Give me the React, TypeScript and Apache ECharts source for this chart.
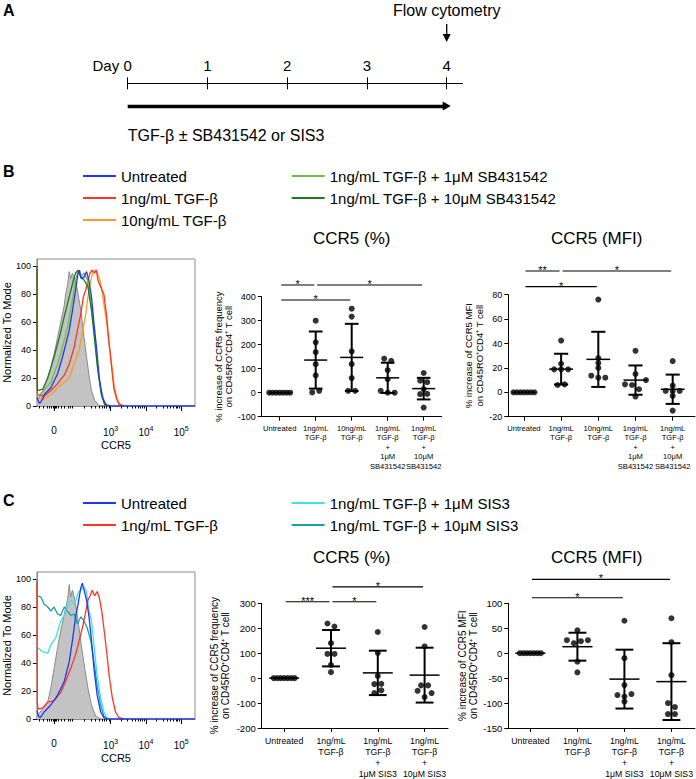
import React, { useEffect, useRef } from 'react';
import * as echarts from 'echarts';

const FONT = '"Liberation Sans", Arial, Helvetica, sans-serif';
type Pt = [number, number];

// ---------------- Panel A (timeline) ----------------
const timelineDays = [0, 1, 2, 3, 4];
const treatmentSpan = [0, 4];
const flowDay = 4;

// ---------------- Histogram axes (biexponential display units) ----------------
const histTickPos = [1.4, 3, 4, 5];
const histTickBase = ['0', '10', '10', '10'];
const histTickExp = ['', '3', '4', '5'];
const histMinorTicks = [0.98, 1.1, 1.2, 1.27, 1.33, 1.37, 1.43, 1.47, 1.53, 1.6, 1.7, 1.8, 1.86, 1.92, 2.25, 2.44, 2.57, 2.68, 2.76, 2.83, 2.89, 2.95, 3.3, 3.48, 3.6, 3.7, 3.78, 3.85, 3.9, 3.95, 4.3, 4.48, 4.6, 4.7, 4.78, 4.85, 4.9, 4.95];
const histYTicks = [0, 20, 40, 60, 80, 100];

// ---------------- Panel B histogram curves [CCR5 display value, % of mode] ----------------
const bHistIsotype: Pt[] = [[0.915, 4], [0.93, 4.8], [1.03, 8.4], [1.12, 13.2], [1.22, 20.4], [1.31, 27.6], [1.4, 37], [1.5, 49], [1.59, 60], [1.69, 72], [1.73, 80], [1.78, 86], [1.83, 96], [1.87, 91], [1.92, 95], [1.99, 90], [2.06, 83], [2.16, 68], [2.25, 49], [2.32, 35], [2.39, 22], [2.46, 11], [2.55, 4], [2.67, 0.5], [2.91, 0]];
const bHistUntreated: Pt[] = [[0.915, 6], [0.96, 3], [1.0, 2], [1.08, 5], [1.12, 8], [1.31, 13], [1.5, 23], [1.64, 35], [1.73, 44], [1.83, 54], [1.92, 68], [2.01, 83], [2.08, 95], [2.12, 97], [2.17, 91], [2.25, 92], [2.32, 96], [2.39, 89], [2.46, 78], [2.53, 59], [2.61, 40], [2.68, 20], [2.77, 6], [2.86, 1], [3.0, 0], [5.39, 0]];
const bHist1ng: Pt[] = [[0.915, 97], [0.925, 9], [0.95, 8], [1.12, 7], [1.31, 11], [1.5, 16], [1.69, 22], [1.83, 30], [1.97, 42], [2.06, 54], [2.16, 66], [2.23, 78], [2.3, 83], [2.36, 90], [2.42, 95], [2.48, 97], [2.55, 95], [2.6, 97], [2.64, 90], [2.72, 85], [2.81, 80], [2.89, 64], [2.95, 47], [3.02, 30], [3.09, 13], [3.17, 5], [3.24, 1], [3.38, 0]];
const bHist10ng: Pt[] = [[0.93, 6], [1.12, 5], [1.31, 8], [1.5, 13], [1.69, 17], [1.83, 20], [1.97, 30], [2.11, 40], [2.2, 52], [2.3, 66], [2.36, 78], [2.44, 90], [2.51, 96], [2.58, 97], [2.64, 94], [2.72, 88], [2.81, 73], [2.89, 59], [2.96, 44], [3.04, 28], [3.11, 13], [3.19, 5], [3.28, 1], [3.42, 0]];
const bHistSB1: Pt[] = [[0.915, 9], [0.93, 7], [1.12, 11], [1.31, 17], [1.5, 30], [1.64, 42], [1.78, 56], [1.92, 76], [2.01, 90], [2.08, 96], [2.16, 92], [2.25, 95], [2.34, 90], [2.44, 76], [2.53, 54], [2.62, 30], [2.72, 13], [2.81, 4], [2.91, 0]];
const bHistSB10: Pt[] = [[0.915, 100], [0.925, 13], [0.93, 11], [1.08, 12], [1.22, 20], [1.4, 35], [1.55, 49], [1.69, 64], [1.83, 78], [1.95, 90], [2.01, 95], [2.08, 97], [2.16, 92], [2.25, 90], [2.36, 85], [2.46, 68], [2.55, 47], [2.64, 25], [2.74, 8], [2.83, 1], [2.91, 0]];

// ---------------- Panel C histogram curves ----------------
const cHistIsotype: Pt[] = [[0.915, 2], [0.93, 2], [1.22, 12], [1.31, 22], [1.4, 36], [1.5, 51], [1.59, 63], [1.69, 75], [1.78, 85], [1.83, 96], [1.87, 87], [1.92, 92], [1.99, 85], [2.08, 70], [2.17, 53], [2.27, 36], [2.36, 22], [2.46, 10], [2.58, 2], [2.72, 0]];
const cHistUntreated: Pt[] = [[0.915, 6], [0.96, 2], [1.01, 1], [1.12, 5], [1.31, 10], [1.5, 17], [1.69, 27], [1.83, 41], [1.92, 56], [2.01, 73], [2.08, 82], [2.16, 94], [2.2, 97], [2.25, 92], [2.32, 85], [2.39, 73], [2.46, 56], [2.53, 36], [2.62, 17], [2.72, 5], [2.81, 1], [2.91, 0], [5.39, 0]];
const cHist1ng: Pt[] = [[0.915, 98], [0.925, 12], [0.95, 7], [1.08, 8], [1.22, 12], [1.4, 13], [1.59, 19], [1.73, 27], [1.87, 36], [2.01, 46], [2.11, 56], [2.2, 65], [2.3, 77], [2.36, 85], [2.42, 88], [2.48, 92], [2.55, 88], [2.62, 91], [2.68, 87], [2.75, 77], [2.81, 65], [2.89, 48], [2.96, 31], [3.05, 15], [3.14, 5], [3.24, 1], [3.38, 0]];
const cHistSIS1: Pt[] = [[0.915, 55], [0.93, 51], [1.08, 48], [1.22, 47], [1.31, 53], [1.45, 58], [1.59, 70], [1.73, 76], [1.87, 85], [1.99, 82], [2.08, 90], [2.17, 93], [2.25, 94], [2.32, 91], [2.39, 77], [2.46, 70], [2.53, 53], [2.62, 31], [2.72, 15], [2.81, 5], [2.91, 0.5], [3.05, 0]];
const cHistSIS10: Pt[] = [[0.915, 100], [0.93, 88], [1.03, 87], [1.12, 82], [1.22, 80], [1.31, 77], [1.4, 80], [1.5, 75], [1.59, 74], [1.69, 80], [1.78, 77], [1.87, 74], [1.97, 75], [2.06, 68], [2.16, 73], [2.25, 70], [2.34, 65], [2.44, 56], [2.53, 41], [2.62, 24], [2.72, 10], [2.81, 2], [2.95, 0]];

// ---------------- Legends ----------------
const bLegendLeft = ['Untreated', '1ng/mL TGF-β', '10ng/mL TGF-β'];
const bLegendRight = ['1ng/mL TGF-β + 1μM SB431542', '1ng/mL TGF-β + 10μM SB431542'];
const cLegendLeft = ['Untreated', '1ng/mL TGF-β'];
const cLegendRight = ['1ng/mL TGF-β + 1μM SIS3', '1ng/mL TGF-β + 10μM SIS3'];

// ---------------- Panel B dot plots ----------------
const bGroups = ['Untreated', '1ng/mL\nTGF-β', '10ng/mL\nTGF-β', '1ng/mL\nTGF-β\n+\n1μM\nSB431542', '1ng/mL\nTGF-β\n+\n10μM\nSB431542'];
const b1Values = [
  [0, 0, 0, 0, 0, 0, 0],
  [300, 210, 169, 119, 72, 1, 8],
  [350, 317, 172, 119, 61, 8, 8],
  [142, 133, 94, 56, 8, 0, 0],
  [82, 50, 44, 15, -6, -5, -62],
];
const b1Mean = [0, 136, 147, 62, 17];
const b1SD = [0, 119, 140, 63, 45];
const b1SigFrom = [0, 1, 0];
const b1SigTo = [1, 4, 2];
const b1SigLevel = [449, 449, 386];
const b1SigLabel = ['*', '*', '*'];

const b2Values = [
  [0, 0, 0, 0, 0, 0, 0],
  [42.4, 23.4, 18.8, 18.8, 18.8, 6, 6.5],
  [76, 28, 24, 20, 13.6, 12, 12],
  [34, 15, 6.5, 6, 2.5, 10, -3.5],
  [25.6, 5.4, 1.1, 1.0, 1.1, -3, -15],
];
const b2Mean = [0, 19, 27, 10, 2.5];
const b2SD = [0, 12.6, 22.6, 12, 12];
const b2SigFrom = [0, 1, 0];
const b2SigTo = [1, 4, 2];
const b2SigLevel = [99.4, 99.4, 86.6];
const b2SigLabel = ['**', '*', '*'];

// ---------------- Panel C dot plots ----------------
const cGroups = ['Untreated', '1ng/mL\nTGF-β', '1ng/mL\nTGF-β\n+\n1μM SIS3', '1ng/mL\nTGF-β\n+\n10μM SIS3'];
const c1Values = [
  [0, 0, 0, 0, 0, 0, 0],
  [219, 207, 140, 97, 97, 53, 24],
  [185, 101, 9, -24, -23, -60, -49],
  [205, 127, -29, -29, -51, -76, -60],
];
const c1Mean = [0, 120, 21, 12];
const c1SD = [0, 73, 89, 110];
const c1SigFrom = [0, 1, 1];
const c1SigTo = [1, 2, 3];
const c1SigLevel = [306, 306, 366];
const c1SigLabel = ['***', '*', '*'];

const c2Values = [
  [0, 0, 0, 0, 0, 0, 0],
  [46, 26, 20, 24, 26, -17, -38.5],
  [65, -10, -64, -84, -87, -82, -97],
  [70, 22, -44, -100, -108, -122, -122],
];
const c2Mean = [0, 13, -52, -57];
const c2SD = [0, 28, 59, 77];
const c2SigFrom = [0, 0];
const c2SigTo = [3, 2];
const c2SigLevel = [148, 111];
const c2SigLabel = ['*', '*'];

// ---------------- colours ----------------
const COLORS: Record<string, string> = {
  'Untreated': '#2138f2',
  '1ng/mL TGF-β': '#ff3526',
  '10ng/mL TGF-β': '#ff9a2a',
  '1ng/mL TGF-β + 1μM SB431542': '#6fc23b',
  '1ng/mL TGF-β + 10μM SB431542': '#1d7a1f',
  '1ng/mL TGF-β + 1μM SIS3': '#3fe2ea',
  '1ng/mL TGF-β + 10μM SIS3': '#17a3a3',
};

function nearestIdx(arr: number[], v: number) {
  let best = 0;
  arr.forEach((a, i) => { if (Math.abs(a - v) < Math.abs(arr[best] - v)) best = i; });
  return best;
}

// spread overlapping dots horizontally (GraphPad-like column scatter)
function swarmOffsets(values: number[], pxPerY: number, pxPerCat: number): number[] {
  const order = values.map((_, i) => i).sort((a, b) => values[b] - values[a] || a - b);
  const clusters: number[][] = [];
  let cur: number[] = [];
  order.forEach((i) => {
    if (cur.length && Math.abs(values[cur[cur.length - 1]] - values[i]) * pxPerY > 4.5) {
      clusters.push(cur);
      cur = [];
    }
    cur.push(i);
  });
  if (cur.length) clusters.push(cur);
  const off = values.map(() => 0);
  clusters.forEach((c) => {
    const k = c.length;
    if (k < 2) return;
    const sp = Math.min(7, 21 / (k - 1));
    c.slice().sort((a, b) => a - b).forEach((i, j) => { off[i] = ((j - (k - 1) / 2) * sp) / pxPerCat; });
  });
  return off;
}

function buildOption() {
  const grid: any[] = [];
  const xAxis: any[] = [];
  const yAxis: any[] = [];
  const series: any[] = [];
  const txt = { color: '#000', fontFamily: FONT };

  // ---- timeline ----
  const tlLeft = 127.7, tlDay = 79.75, tlTop = 83.3;
  grid.push({ left: tlLeft, top: tlTop, width: 4.2 * tlDay, height: 22.7 });
  xAxis.push({
    gridIndex: 0, type: 'value', min: 0, max: 4.2, position: 'top',
    axisLine: { show: true, onZero: false, lineStyle: { color: '#000', width: 1 } },
    axisTick: { show: true, length: 6, customValues: timelineDays, lineStyle: { color: '#000' } },
    axisLabel: { show: true, customValues: timelineDays, margin: 10, fontSize: 15, ...txt },
    splitLine: { show: false },
  });
  xAxis.push({
    gridIndex: 0, type: 'value', min: 0, max: 4.2, position: 'top',
    axisLine: { show: false, onZero: false },
    axisTick: { show: true, inside: true, length: 6, customValues: timelineDays, lineStyle: { color: '#000' } },
    axisLabel: { show: false }, splitLine: { show: false },
  });
  yAxis.push({ gridIndex: 0, type: 'value', min: 0, max: 1, show: false });
  series.push({
    type: 'line', xAxisIndex: 0, yAxisIndex: 0, data: [[0, 0]], symbol: 'none', silent: true,
    color: '#000', lineStyle: { width: 0 },
    markLine: {
      silent: true, symbol: ['none', 'triangle'], symbolSize: [9, 8], label: { show: false },
      itemStyle: { color: '#000' },
      lineStyle: { color: '#000', width: 3.3, type: 'solid' },
      data: [[{ coord: [treatmentSpan[0], 0] }, { coord: [treatmentSpan[1], 0] }]],
    },
  });

  // ---- histograms ----
  const histPanel = (top: number, curves: { name?: string; data: Pt[] }[]) => {
    const gi = grid.length;
    grid.push({ left: 36, top, width: 159, height: 147, show: true, borderColor: '#8c8c8c', borderWidth: 1, backgroundColor: 'transparent' });
    const xi = xAxis.length;
    xAxis.push({
      gridIndex: gi, type: 'value', min: 0.915, max: 5.39, position: 'bottom',
      axisLine: { show: true, onZero: false, lineStyle: { color: '#8c8c8c' } },
      axisTick: { show: true, length: 5, customValues: histTickPos, lineStyle: { color: '#000' } },
      axisLabel: {
        customValues: histTickPos, showMinLabel: true, showMaxLabel: true,
        formatter: (v: number) => {
          const i = nearestIdx(histTickPos, v);
          return histTickExp[i] ? `{b|${histTickBase[i]}}{s|${histTickExp[i]}}` : `{b|${histTickBase[i]}}`;
        },
        margin: 19, ...txt,
        rich: {
          b: { fontSize: 10, ...txt },
          s: { fontSize: 7, padding: [0, 0, 7, 0], ...txt },
        },
      },
      splitLine: { show: false },
      name: 'CCR5', nameLocation: 'middle', nameGap: 33, nameTextStyle: { fontSize: 11, ...txt },
    });
    xAxis.push({
      gridIndex: gi, type: 'value', min: 0.915, max: 5.39, position: 'bottom',
      axisLine: { show: false, onZero: false },
      axisTick: { show: true, length: 2.5, customValues: histMinorTicks, lineStyle: { color: '#000' } },
      axisLabel: { show: false }, splitLine: { show: false },
    });
    const yi = yAxis.length;
    yAxis.push({
      gridIndex: gi, type: 'value', min: 0, max: 105,
      axisLine: { show: true, onZero: false, lineStyle: { color: '#8c8c8c' } },
      axisTick: { show: true, length: 4, customValues: histYTicks, lineStyle: { color: '#000' } },
      axisLabel: { customValues: histYTicks, fontSize: 9, margin: 6, ...txt },
      splitLine: { show: false },
      name: 'Normalized To Mode', nameLocation: 'middle', nameRotate: 90, nameGap: 20,
      nameTextStyle: { fontSize: 11, ...txt },
    });
    curves.forEach((c) => {
      if (!c.name) {
        series.push({
          type: 'line', xAxisIndex: xi, yAxisIndex: yi, data: c.data, symbol: 'none', silent: true,
          color: '#8a8a8a', lineStyle: { color: '#8a8a8a', width: 1 }, areaStyle: { color: '#c3c3c3', opacity: 1 },
        });
      } else {
        const col = COLORS[c.name];
        series.push({
          type: 'line', name: c.name, xAxisIndex: xi, yAxisIndex: yi, data: c.data, symbol: 'none', silent: true,
          color: col, itemStyle: { color: col }, lineStyle: { color: col, width: 1.3 },
        });
      }
    });
  };

  histPanel(259, [
    { data: bHistIsotype },
    { name: '10ng/mL TGF-β', data: bHist10ng },
    { name: '1ng/mL TGF-β', data: bHist1ng },
    { name: '1ng/mL TGF-β + 1μM SB431542', data: bHistSB1 },
    { name: '1ng/mL TGF-β + 10μM SB431542', data: bHistSB10 },
    { name: 'Untreated', data: bHistUntreated },
  ]);

  // ---- dot plots ----
  const dotPanel = (p: any) => {
    const gi = grid.length;
    grid.push({ left: p.left, top: p.top, width: p.width, height: p.height });
    const xi = xAxis.length;
    const idx = p.groups.map((_: string, i: number) => i);
    xAxis.push({
      gridIndex: gi, type: 'value', min: p.xMin, max: p.xMax, position: 'bottom',
      axisLine: { show: true, onZero: false, lineStyle: { color: '#000', width: 1 } },
      axisTick: { show: true, length: 4, customValues: idx, lineStyle: { color: '#000' } },
      axisLabel: {
        customValues: idx, showMinLabel: true, showMaxLabel: true, hideOverlap: false,
        formatter: (v: number) => p.groups[Math.round(v)], fontSize: p.catSize, lineHeight: p.catLH, margin: 7, ...txt,
      },
      splitLine: { show: false },
    });
    const yi = yAxis.length;
    yAxis.push({
      gridIndex: gi, type: 'value', min: p.yMin, max: p.yMax, interval: p.yStep,
      axisLine: { show: true, onZero: false, lineStyle: { color: '#000', width: 1 } },
      axisTick: { show: true, length: 4, lineStyle: { color: '#000' } },
      axisLabel: { fontSize: p.tickSize, margin: 6, showMinLabel: true, showMaxLabel: true, ...txt },
      splitLine: { show: false },
      name: p.yName, nameLocation: 'middle', nameRotate: 90, nameGap: p.nameGap,
      nameTextStyle: { fontSize: p.nameSize, lineHeight: p.nameLH, ...txt },
    });
    const pxPerY = p.height / (p.yMax - p.yMin);
    const pxPerCat = p.width / (p.xMax - p.xMin);
    const pts: number[][] = [];
    p.values.forEach((vals: number[], g: number) => {
      const off = swarmOffsets(vals, pxPerY, pxPerCat);
      vals.forEach((v, k) => pts.push([g + off[k], v]));
    });
    series.push({
      type: 'custom', xAxisIndex: xi, yAxisIndex: yi, silent: true, color: '#000',
      data: p.mean.map((m: number, g: number) => [g, m, p.sd[g]]),
      renderItem: (_params: any, api: any) => {
        const x = api.value(0), m = api.value(1), s = api.value(2);
        const c = api.coord([x, m]);
        const w = api.size([1, 0])[0];
        const children: any[] = [
          { type: 'line', shape: { x1: c[0] - 0.32 * w, y1: c[1], x2: c[0] + 0.32 * w, y2: c[1] }, style: { stroke: '#000', lineWidth: 1.5 } },
        ];
        if (s > 0) {
          const t = api.coord([x, m + s]);
          const b = api.coord([x, m - s]);
          const ch = 0.19 * w;
          children.push({ type: 'line', shape: { x1: t[0], y1: t[1], x2: b[0], y2: b[1] }, style: { stroke: '#000', lineWidth: 2 } });
          children.push({ type: 'line', shape: { x1: t[0] - ch, y1: t[1], x2: t[0] + ch, y2: t[1] }, style: { stroke: '#000', lineWidth: 2 } });
          children.push({ type: 'line', shape: { x1: b[0] - ch, y1: b[1], x2: b[0] + ch, y2: b[1] }, style: { stroke: '#000', lineWidth: 2 } });
        }
        return { type: 'group', children };
      },
    });
    series.push({
      type: 'scatter', xAxisIndex: xi, yAxisIndex: yi, data: pts, symbol: 'circle', symbolSize: 6,
      color: '#000', itemStyle: { color: '#000' }, silent: true,
    });
    series.push({
      type: 'custom', xAxisIndex: xi, yAxisIndex: yi, silent: true, clip: false, color: '#000',
      data: p.sigFrom.map((f: number, i: number) => [f, p.sigTo[i], p.sigLevel[i]]),
      renderItem: (params: any, api: any) => {
        const a = api.coord([api.value(0), api.value(2)]);
        const b = api.coord([api.value(1), api.value(2)]);
        return {
          type: 'group',
          children: [
            { type: 'line', shape: { x1: a[0] + 1.5, y1: a[1], x2: b[0] - 1.5, y2: b[1] }, style: { stroke: '#000', lineWidth: 1.1 } },
            { type: 'text', x: (a[0] + b[0]) / 2, y: a[1] - 1, style: { text: p.sigLabel[params.dataIndex], fill: '#000', fontSize: 11, fontFamily: FONT, align: 'center', verticalAlign: 'middle' } },
          ],
        };
      },
    });
  };

  dotPanel({
    left: 261.7, top: 296.7, width: 180, height: 120, xMin: -0.5, xMax: 4.5, yMin: -100, yMax: 400, yStep: 100,
    groups: bGroups, values: b1Values, mean: b1Mean, sd: b1SD,
    sigFrom: b1SigFrom, sigTo: b1SigTo, sigLevel: b1SigLevel, sigLabel: b1SigLabel,
    yName: '% increase of CCR5 frequency\non CD45RO⁺CD4⁺ T cell', nameGap: 14, nameSize: 9.5, nameLH: 10.5,
    catSize: 7.6, catLH: 9.5, tickSize: 9,
  });
  dotPanel({
    left: 508.3, top: 294.7, width: 186.7, height: 122, xMin: -0.42, xMax: 4.6, yMin: -20, yMax: 80, yStep: 20,
    groups: bGroups, values: b2Values, mean: b2Mean, sd: b2SD,
    sigFrom: b2SigFrom, sigTo: b2SigTo, sigLevel: b2SigLevel, sigLabel: b2SigLabel,
    yName: '% increase of CCR5 MFI\non CD45RO⁺CD4⁺ T cell', nameGap: 24, nameSize: 9.5, nameLH: 10.5,
    catSize: 7.6, catLH: 9.5, tickSize: 9,
  });

  histPanel(572, [
    { data: cHistIsotype },
    { name: '1ng/mL TGF-β + 10μM SIS3', data: cHistSIS10 },
    { name: '1ng/mL TGF-β + 1μM SIS3', data: cHistSIS1 },
    { name: '1ng/mL TGF-β', data: cHist1ng },
    { name: 'Untreated', data: cHistUntreated },
  ]);

  dotPanel({
    left: 261.7, top: 603.3, width: 186.3, height: 125, xMin: -0.48, xMax: 3.5, yMin: -200, yMax: 300, yStep: 100,
    groups: cGroups, values: c1Values, mean: c1Mean, sd: c1SD,
    sigFrom: c1SigFrom, sigTo: c1SigTo, sigLevel: c1SigLevel, sigLabel: c1SigLabel,
    yName: '% increase of CCR5 frequency\non CD45RO⁺CD4⁺ T cell', nameGap: 30, nameSize: 10, nameLH: 11.5,
    catSize: 8.7, catLH: 11, tickSize: 9.5,
  });
  dotPanel({
    left: 508.3, top: 603.3, width: 186.7, height: 125, xMin: -0.47, xMax: 3.5, yMin: -150, yMax: 100, yStep: 50,
    groups: cGroups, values: c2Values, mean: c2Mean, sd: c2SD,
    sigFrom: c2SigFrom, sigTo: c2SigTo, sigLevel: c2SigLevel, sigLabel: c2SigLabel,
    yName: '% increase of CCR5 MFI\non CD45RO⁺CD4⁺ T cell', nameGap: 28, nameSize: 10, nameLH: 11.5,
    catSize: 8.7, catLH: 11, tickSize: 9.5,
  });

  // ---- legends ----
  const legend: any[] = [];
  const legendItem = (name: string, left: number, y: number) => ({
    show: true, left, top: y - 8.5, padding: 0, orient: 'horizontal', icon: 'rect',
    itemWidth: 33, itemHeight: 2, itemGap: 0, selectedMode: false, data: [name],
    textStyle: { fontSize: 15, lineHeight: 17, color: '#000', fontFamily: FONT },
  });
  const bRows = [176, 198, 220];
  const cRows = [503, 525];
  bLegendLeft.forEach((n, i) => legend.push(legendItem(n, 83, bRows[i])));
  bLegendRight.forEach((n, i) => legend.push(legendItem(n, 291.7, bRows[i])));
  cLegendLeft.forEach((n, i) => legend.push(legendItem(n, 83, cRows[i])));
  cLegendRight.forEach((n, i) => legend.push(legendItem(n, 291.7, cRows[i])));

  // ---- free texts ----
  const t = (text: string, x: number, y: number, size: number, align = 'left', bold = false) => ({
    type: 'text', x, y, silent: true,
    style: { text, fill: '#000', fontSize: size, fontFamily: FONT, fontWeight: bold ? 'bold' : 'normal', align, verticalAlign: 'middle' },
  });
  const flowX = tlLeft + flowDay * tlDay;
  const graphic: any[] = [
    t('A', 3, 10, 16, 'left', true),
    t('Flow cytometry', flowX, 10.5, 16, 'center'),
    { type: 'line', silent: true, shape: { x1: flowX, y1: 24, x2: flowX, y2: 36 }, style: { stroke: '#000', lineWidth: 1.3 } },
    { type: 'polygon', silent: true, shape: { points: [[flowX - 4, 34], [flowX + 4, 34], [flowX, 42]] }, style: { fill: '#000' } },
    t('Day', tlLeft - 8.5, 65.7, 15, 'right'),
    t('TGF-β ± SB431542 or SIS3', tlLeft, 135, 16, 'left'),
    t('B', 3, 171, 16, 'left', true),
    t('C', 3, 500, 16, 'left', true),
    t('CCR5 (%)', 351.7, 238, 17, 'center'),
    t('CCR5 (MFI)', 596.7, 238, 17, 'center'),
    t('CCR5 (%)', 351.7, 557.5, 17, 'center'),
    t('CCR5 (MFI)', 596.7, 557.5, 17, 'center'),
  ];

  return {
    animation: false,
    backgroundColor: '#fff',
    textStyle: { fontFamily: FONT },
    grid, xAxis, yAxis, series, legend, graphic,
  };
}

export default function App() {
  const ref = useRef<HTMLDivElement>(null);
  useEffect(() => {
    if (!ref.current) return;
    const chart = echarts.init(ref.current, undefined, { renderer: 'svg' });
    chart.setOption(buildOption() as any);
    return () => chart.dispose();
  }, []);
  return <div ref={ref} style={{ position: 'absolute', left: 0, top: 0, width: 696, height: 779 }} />;
}
